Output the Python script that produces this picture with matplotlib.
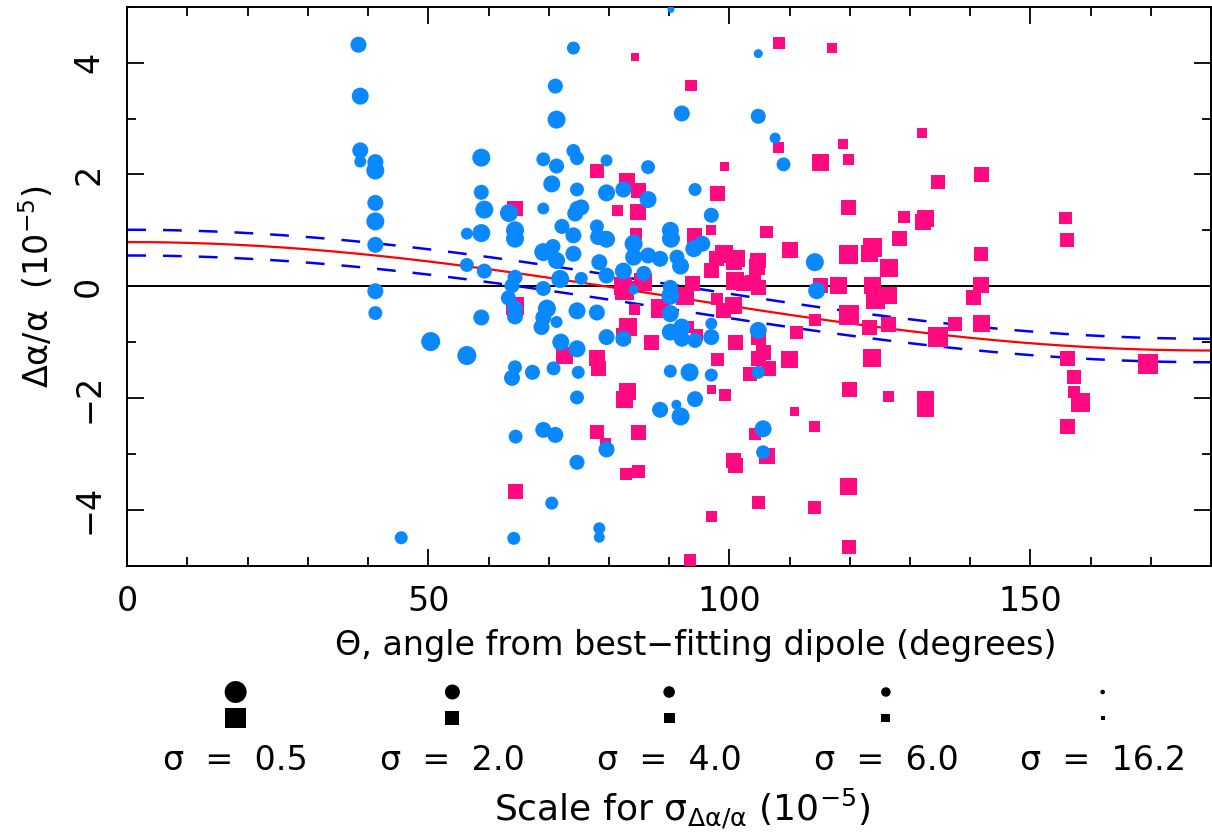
import numpy as np
import matplotlib.pyplot as plt

plt.rcParams['font.family'] = ['DejaVu Sans']
plt.rcParams['mathtext.fontset'] = 'dejavusans'

# blue circles: angle from dipole (deg), delta alpha / alpha (1e-5), sigma (1e-5)
theta_circ = [38.4, 38.7, 38.7, 38.7, 41.2, 41.2, 41.2, 41.2, 41.2, 41.2, 41.2,
              58.8, 58.8, 59.3, 58.8, 56.4, 56.4, 59.3, 63.4, 64.4, 64.4, 64.4, 63.9,
              69.1, 69.1, 70.5, 71.1, 71.3, 71.3, 74.1, 74.1, 74.7, 74.7, 74.7, 72.2,
              74.1, 69.1, 70.7, 71.3, 71.9, 74.1, 69.1, 63.3, 64.4, 64.4, 58.8, 50.4,
              56.4, 63.9, 64.4, 67.3, 70.8, 69.7, 69.1, 68.8, 71.3, 72.0, 74.7, 74.7,
              74.9, 74.7, 74.7, 64.5, 69.1, 71.1, 70.5, 45.5, 64.2, 90.3, 92.1, 104.8,
              104.8, 107.6, 109.0, 79.6, 86.5, 79.6, 82.4, 86.5, 75.4, 74.4, 94.3, 97.0,
              114.2, 78.0, 78.2, 79.6, 78.4, 79.6, 75.4, 82.4, 84.1, 84.1, 86.5, 88.5,
              85.8, 90.2, 90.3, 91.3, 91.9, 94.1, 95.5, 90.2, 84.1, 114.5, 90.2, 78.0,
              90.2, 79.6, 82.4, 90.2, 92.1, 92.1, 94.3, 97.0, 97.0, 104.8, 104.8, 90.2,
              93.4, 97.0, 88.5, 91.2, 91.9, 94.3, 105.6, 79.6, 105.6, 78.4, 78.4]
dalpha_circ = [4.32, 3.40, 2.43, 2.23, 2.22, 2.07, 1.49, 1.16, 0.74, -0.09, -0.48,
               2.30, 1.68, 1.37, 0.95, 0.94, 0.38, 0.27, 1.31, 1.00, 0.85, 0.16, 0.01,
               2.27, 1.39, 1.83, 3.58, 2.98, 2.15, 4.26, 2.42, 2.29, 1.73, 1.39, 1.07,
               0.91, 0.61, 0.71, 0.46, 0.13, 0.58, -0.04, -0.21, -0.40, -0.54, -0.56, -0.99,
               -1.24, -1.64, -1.45, -1.54, -1.47, -0.40, -0.56, -0.73, -0.64, -1.00, -0.44, -1.12,
               -1.54, -1.99, -3.15, -2.69, -2.57, -2.66, -3.88, -4.50, -4.51, 4.95, 3.09, 4.16,
               3.04, 2.65, 2.18, 2.25, 2.13, 1.67, 1.73, 1.55, 1.41, 1.30, 1.73, 1.27,
               0.43, 1.07, 0.88, 0.84, 0.43, 0.19, 0.14, 0.27, 0.76, 0.52, 0.55, 0.49,
               0.23, 1.00, 0.85, 0.52, 0.36, 0.67, 0.76, -0.02, -0.06, -0.08, -0.17, -0.47,
               -0.49, -0.91, -0.94, -0.82, -0.73, -0.94, -0.97, -0.67, -0.91, -0.79, -1.54, -1.52,
               -1.54, -1.59, -2.21, -2.12, -2.33, -2.02, -2.55, -2.92, -2.97, -4.33, -4.49]
sigma_circ = [1.65, 1.35, 1.65, 3.7, 1.65, 1.1, 1.65, 1.1, 1.65, 1.65, 2.5,
              1.1, 2.0, 1.1, 1.1, 3.7, 2.5, 2.0, 1.1, 1.1, 1.1, 2.0, 2.0,
              2.5, 3.7, 1.35, 2.0, 1.1, 2.0, 3.0, 2.5, 2.5, 2.5, 2.0, 2.0,
              1.65, 1.1, 2.0, 1.35, 1.1, 1.65, 2.0, 2.0, 1.65, 1.65, 1.65, 0.9,
              0.9, 1.65, 2.5, 2.0, 2.5, 1.1, 1.65, 1.65, 3.7, 1.35, 1.35, 1.35,
              3.0, 2.5, 2.0, 2.5, 1.65, 1.65, 3.0, 3.0, 3.0, 10.0, 1.65, 6.7,
              2.0, 4.5, 2.5, 3.7, 2.5, 1.35, 1.65, 1.35, 1.65, 1.65, 3.0, 2.0,
              1.1, 2.5, 1.65, 1.35, 1.65, 1.65, 3.0, 1.35, 1.1, 1.35, 1.65, 1.65,
              2.0, 1.35, 1.1, 2.0, 1.35, 1.35, 1.65, 2.0, 5.5, 1.35, 1.1, 1.65,
              1.35, 1.65, 1.65, 1.35, 1.35, 1.65, 2.0, 3.7, 1.65, 1.35, 3.0, 3.0,
              1.1, 3.0, 1.65, 5.5, 1.1, 1.65, 1.35, 1.65, 2.5, 3.7, 4.5]

# pink squares
theta_sq = [64.4, 64.4, 72.7, 64.5, 84.3, 93.6, 108.3, 108.1, 115.1, 78.0, 99.2,
            83.0, 84.9, 81.4, 84.8, 98.0, 96.9, 106.2, 110.1, 84.5, 85.6, 82.4, 94.2,
            99.1, 100.7, 97.1, 97.9, 104.8, 104.6, 101.0, 104.0, 93.8, 101.2, 104.8, 102.3,
            82.6, 92.6, 84.3, 88.5, 99.0, 100.7, 97.9, 114.2, 111.2, 83.1, 82.5, 93.2,
            94.6, 101.0, 104.8, 105.7, 104.8, 106.5, 103.4, 110.0, 87.1, 78.0, 78.2, 98.1,
            97.1, 99.3, 83.1, 82.6, 110.8, 78.0, 84.9, 114.2, 104.3, 79.4, 100.7, 101.0,
            106.2, 82.8, 84.9, 104.9, 114.2, 97.0, 93.5, 117.1, 118.8, 119.8, 132.0, 134.7,
            141.9, 119.8, 129.0, 132.5, 132.2, 155.9, 156.1, 128.2, 123.8, 123.3, 119.8, 126.5,
            141.8, 118.1, 123.8, 141.8, 115.1, 124.2, 126.4, 140.5, 119.8, 123.3, 126.4, 134.7,
            137.5, 141.8, 123.7, 156.1, 157.3, 157.3, 158.4, 169.5, 119.9, 126.4, 132.5, 132.5,
            156.1, 119.8, 119.9]
dalpha_sq = [1.39, -0.35, -1.24, -3.68, 4.10, 3.59, 4.35, 2.48, 2.22, 2.06, 2.14,
             1.89, 1.71, 1.36, 1.33, 1.65, 1.00, 0.97, 0.64, 0.94, 0.08, 0.01, 0.91,
             0.58, 0.43, 0.28, 0.49, 0.46, 0.34, 0.10, 0.05, 0.05, 0.49, -0.02, 0.04,
             -0.08, -0.17, -0.42, -0.39, -0.44, -0.35, -0.23, -0.61, -0.82, -0.73, -0.88, -0.73,
             -0.88, -1.00, -0.91, -1.18, -1.30, -1.48, -1.57, -1.31, -1.01, -1.29, -1.48, -1.31,
             -1.85, -1.94, -1.89, -2.02, -2.24, -2.60, -2.62, -2.51, -2.64, -2.82, -3.12, -3.21,
             -3.04, -3.36, -3.31, -3.87, -3.96, -4.12, -4.90, 4.27, 2.54, 2.26, 2.74, 1.86,
             1.99, 1.40, 1.24, 1.21, 1.14, 1.22, 0.82, 0.85, 0.70, 0.58, 0.56, 0.32,
             0.57, 0.02, 0.01, 0.03, 0.01, -0.23, -0.17, -0.21, -0.52, -0.74, -0.69, -0.91,
             -0.67, -0.67, -1.29, -1.30, -1.63, -1.89, -2.08, -1.40, -1.84, -1.97, -2.03, -2.18,
             -2.51, -3.58, -4.67]
sigma_sq = [1.6, 0.84, 1.04, 1.6, 7.2, 3.1, 3.1, 3.8, 1.04, 2.0, 5.8,
            1.6, 1.6, 3.8, 1.3, 1.6, 4.7, 2.5, 1.3, 3.1, 0.84, 0.84, 1.6,
            0.84, 1.3, 1.6, 1.6, 1.3, 1.3, 0.84, 1.3, 1.6, 1.04, 1.6, 1.6,
            0.68, 0.84, 3.8, 0.68, 1.6, 1.04, 3.1, 3.1, 2.5, 0.84, 1.6, 3.1,
            3.1, 1.6, 1.6, 1.6, 1.6, 1.6, 2.0, 1.04, 1.6, 1.3, 1.6, 2.5,
            5.8, 3.1, 1.04, 1.04, 5.8, 2.0, 1.6, 3.8, 3.1, 3.8, 1.6, 1.6,
            1.3, 3.1, 2.5, 2.5, 2.5, 3.8, 3.1, 4.7, 4.7, 3.8, 4.7, 2.0,
            1.6, 1.6, 3.1, 1.04, 1.3, 2.5, 2.0, 1.6, 0.68, 1.04, 0.68, 0.84,
            2.0, 1.04, 1.04, 1.3, 1.6, 0.68, 1.04, 1.6, 0.55, 1.6, 1.6, 0.55,
            2.0, 1.04, 0.84, 1.6, 2.0, 3.1, 0.68, 0.55, 1.6, 3.8, 1.04, 1.04,
            1.6, 1.04, 2.0]

# dipole fit (A cos(theta) + m) and its 1-sigma band: [fit, upper, lower]
fit_amp = [0.97, 0.975, 0.955]
fit_mono = [-0.18, 0.035, -0.405]

scale_sigmas = [0.5, 2.0, 4.0, 6.0, 16.2]
scale_labels = ['0.5', '2.0', '4.0', '6.0', '16.2']

blue = '#0a88ff'
pink = '#ff0a80'
fs = 24


def marker_area(sig, shrink=1.0):
    # marker diameter in pixels shrinks with log(sigma), converted to points^2
    d = (18.5 - 5.0 * np.log(np.asarray(sig))) * shrink
    return (d * 0.72) ** 2


fig = plt.figure(figsize=(12.12, 8.38), dpi=100)
ax = fig.add_axes([0.1050, 0.3249, 0.8942, 0.6671])

ax.axhline(0, color='black', lw=1.4, zorder=1)
th = np.linspace(0, 180, 361)
cth = np.cos(np.radians(th))
ax.plot(th, fit_amp[0] * cth + fit_mono[0], color='#ff0000', lw=1.6, zorder=2)
for k in (1, 2):
    ax.plot(th, fit_amp[k] * cth + fit_mono[k], color='#0000ff', lw=1.8,
            linestyle=(0, (7.5, 6.8)), zorder=2)

ax.scatter(theta_sq, dalpha_sq, s=marker_area(sigma_sq, 0.93), marker='s',
           color=pink, linewidths=0, zorder=3)
ax.scatter(theta_circ, dalpha_circ, s=marker_area(sigma_circ), marker='o',
           color=blue, linewidths=0, zorder=4)

ax.set_xlim(0, 180)
ax.set_ylim(-5, 5)
ax.set_xticks([0, 50, 100, 150])
ax.set_xticks(np.arange(0, 181, 10), minor=True)
ax.set_yticks([-4, -2, 0, 2, 4])
ax.set_yticks(np.arange(-5, 6, 1), minor=True)
ax.tick_params(which='both', direction='in', top=True, right=True, width=1.3,
               labelsize=fs)
ax.tick_params(which='major', length=12)
ax.tick_params(which='minor', length=6.5)
ax.tick_params(axis='x', pad=14)
ax.tick_params(axis='y', pad=16, labelrotation=90)
for lab in ax.get_yticklabels():
    lab.set_va('center')
for sp in ax.spines.values():
    sp.set_linewidth(1.4)

fig.text(696 / 1212, 0.2184,
         'Θ, angle from best\u2212fitting dipole (degrees)',
         ha='center', va='baseline', fontsize=fs)
fig.text(37 / 1212, 0.3249 + 0.6671 / 2, 'Δα/α  (10$^{-5}$)', rotation=90,
         ha='center', va='center', fontsize=fs)

# size scale below the plot
leg = fig.add_axes([0.1050, 1 - 731 / 838, 0.8942, 52 / 838])
leg.set_xlim(0, len(scale_sigmas))
leg.set_ylim(-0.5, 1.5)
leg.axis('off')
xs = np.arange(len(scale_sigmas)) + 0.5
leg.scatter(xs, np.ones(len(xs)), s=marker_area(scale_sigmas), marker='o',
            color='black', linewidths=0, clip_on=False)
leg.scatter(xs, np.zeros(len(xs)), s=marker_area(scale_sigmas, 0.93), marker='s',
            color='black', linewidths=0, clip_on=False)
for x, lab in zip(xs, scale_labels):
    leg.text(x, -2.0, 'σ  =  ' + lab, ha='center', va='baseline', fontsize=fs,
             clip_on=False)
leg.text(2.56, -3.96, r'Scale for σ$_{\mathregular{Δα/α}}$ (10$^{-5}$)',
         ha='center', va='baseline', fontsize=26, clip_on=False)

fig.savefig('out.png', dpi=100)
